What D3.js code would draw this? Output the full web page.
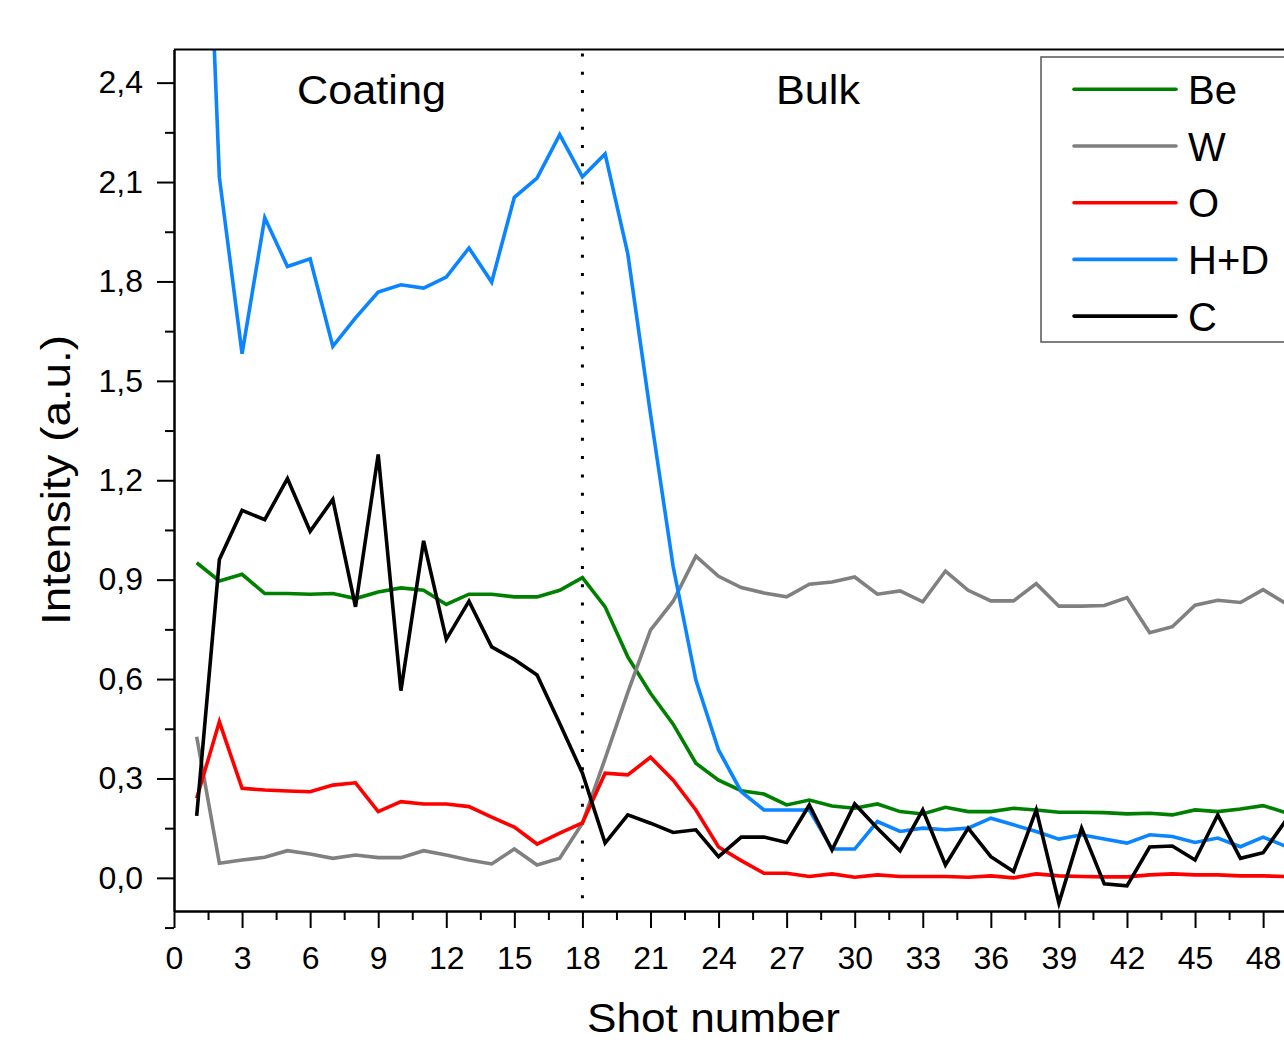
<!DOCTYPE html>
<html lang="en">
  <head>
    <meta charset="UTF-8" />
    <title>Intensity vs shot number</title>
    <script src="https://cdn.jsdelivr.net/npm/d3@7"></script>
    <style>
      body { margin: 0; background: #fff; }
      text { font-family: "Liberation Sans", Arial, sans-serif; fill: #000; }
      .axis path, .axis line { stroke: #000; stroke-width: 2px; }
      .axis text { font-size: 32px; font-family: "Liberation Sans", Arial, sans-serif; }
    </style>
  </head>
  <body>
    <script>

      // shot numbers 1..49
      var shots = [1,2,3,4,5,6,7,8,9,10,11,12,13,14,15,16,17,18,19,20,21,22,23,24,25,
                   26,27,28,29,30,31,32,33,34,35,36,37,38,39,40,41,42,43,44,45,46,47,48,49];

      // series values
      var be = [0.951,0.896,0.916,0.858,0.858,0.856,0.858,0.843,0.863,0.875,
                0.868,0.825,0.856,0.856,0.848,0.848,0.868,0.906,0.818,0.667,
                0.557,0.464,0.346,0.295,0.263,0.253,0.220,0.235,0.217,0.210,
                0.223,0.200,0.193,0.213,0.200,0.200,0.210,0.205,0.198,0.198,
                0.197,0.193,0.195,0.190,0.205,0.200,0.208,0.218,0.197];

      var w = [0.426,0.044,0.054,0.062,0.082,0.072,0.059,0.069,0.061,0.061,
               0.082,0.069,0.054,0.042,0.087,0.039,0.059,0.165,0.360,0.560,
               0.748,0.835,0.971,0.910,0.876,0.860,0.848,0.886,0.893,0.908,
               0.856,0.866,0.833,0.926,0.868,0.836,0.836,0.888,0.820,0.820,
               0.822,0.846,0.740,0.758,0.823,0.838,0.831,0.870,0.828];

      var o = [0.240,0.471,0.270,0.265,0.262,0.260,0.280,0.287,0.200,0.230,
               0.223,0.223,0.215,0.183,0.153,0.102,0.135,0.166,0.316,0.311,
               0.364,0.295,0.205,0.093,0.052,0.014,0.014,0.004,0.012,0.002,
               0.009,0.004,0.004,0.004,0.002,0.006,0.000,0.012,0.006,0.004,
               0.003,0.003,0.009,0.012,0.009,0.009,0.006,0.006,0.004];

      var hd = [3.85,2.114,1.582,1.992,1.845,1.868,1.604,1.690,1.768,1.790,
                1.780,1.813,1.901,1.798,2.054,2.112,2.243,2.116,2.185,1.883,
                1.400,0.939,0.597,0.386,0.260,0.205,0.205,0.205,0.087,0.087,
                0.170,0.140,0.150,0.145,0.150,0.180,0.160,0.140,0.117,0.130,
                0.117,0.105,0.130,0.125,0.107,0.120,0.094,0.123,0.095];

      var c = [0.187,0.961,1.109,1.081,1.205,1.046,1.142,0.818,1.278,0.565,
               1.017,0.720,0.835,0.697,0.659,0.612,0.466,0.316,0.105,0.190,
               0.165,0.137,0.145,0.064,0.123,0.123,0.107,0.220,0.084,0.223,
               0.150,0.082,0.205,0.039,0.150,0.064,0.019,0.205,-0.076,0.150,
               -0.018,-0.024,0.093,0.096,0.054,0.190,0.059,0.076,0.173];

      var seriesNames = ["Be", "W", "O", "H+D", "C"];
      var seriesValues = [be, w, o, hd, c];
      var seriesColors = ["#008000", "#808080", "#ff0000", "#0a84ff", "#000000"];

      // tick values
      var xTicks = [0,3,6,9,12,15,18,21,24,27,30,33,36,39,42,45,48];
      var xMinor = [1.5,4.5,7.5,10.5,13.5,16.5,19.5,22.5,25.5,28.5,31.5,34.5,37.5,40.5,43.5,46.5,49.5];
      var yTicks = [0,0.3,0.6,0.9,1.2,1.5,1.8,2.1,2.4];
      var yMinor = [-0.15,0.15,0.45,0.75,1.05,1.35,1.65,1.95,2.25];

      var boundary = 18;

      // page size and plot box
      var pageW = 1284, pageH = 1042;
      var plotLeft = 174, plotRight = 1308.5, plotTop = 49.5, plotBottom = 911;

      var svg = d3.select("body").append("svg")
        .attr("width", pageW)
        .attr("height", pageH);

      var xScale = d3.scaleLinear().domain([0, 50]).range([plotLeft, plotRight]);
      var yScale = d3.scaleLinear().domain([-0.1, 2.5]).range([plotBottom, plotTop]);

      // comma decimal labels
      var locale = d3.formatLocale({decimal: ",", thousands: ".", grouping: [3], currency: ["", ""]});
      var fmt = locale.format(".1f");

      svg.append("clipPath").attr("id", "plot")
        .append("rect")
        .attr("x", plotLeft).attr("y", plotTop)
        .attr("width", plotRight - plotLeft).attr("height", plotBottom - plotTop);

      // dotted boundary between coating and bulk
      svg.append("line")
        .attr("x1", xScale(boundary)).attr("x2", xScale(boundary))
        .attr("y1", plotTop + 4).attr("y2", plotBottom)
        .attr("stroke", "#000")
        .attr("stroke-width", 3)
        .attr("stroke-dasharray", "3,15.3");

      // lines
      var line = d3.line()
        .x(function(d, i) { return xScale(shots[i]); })
        .y(function(d) { return yScale(d); });

      svg.append("g").attr("clip-path", "url(#plot)")
        .selectAll("path")
        .data(seriesValues)
        .enter()
        .append("path")
        .attr("d", line)
        .attr("fill", "none")
        .attr("stroke", function(d, i) { return seriesColors[i]; })
        .attr("stroke-width", 3.6)
        .attr("stroke-linejoin", "miter");

      // axes: major and minor ticks
      svg.append("g")
        .attr("class", "axis")
        .attr("transform", "translate(0," + plotBottom + ")")
        .call(d3.axisBottom(xScale).tickValues(xTicks).tickSize(17).tickSizeOuter(0).tickPadding(18));

      svg.append("g")
        .attr("class", "axis")
        .attr("transform", "translate(0," + plotBottom + ")")
        .call(d3.axisBottom(xScale).tickValues(xMinor).tickSize(9).tickSizeOuter(0).tickFormat(""));

      svg.append("g")
        .attr("class", "axis")
        .attr("transform", "translate(" + plotLeft + ",0)")
        .call(d3.axisLeft(yScale).tickValues(yTicks).tickSize(17).tickSizeOuter(0).tickPadding(14).tickFormat(fmt));

      svg.append("g")
        .attr("class", "axis")
        .attr("transform", "translate(" + plotLeft + ",0)")
        .call(d3.axisLeft(yScale).tickValues(yMinor).tickSize(9).tickSizeOuter(0).tickFormat(""));

      svg.selectAll(".axis text").attr("font-family", "Liberation Sans, Arial, sans-serif");

      // top border of frame
      svg.append("line")
        .attr("x1", plotLeft).attr("x2", plotRight)
        .attr("y1", plotTop).attr("y2", plotTop)
        .attr("stroke", "#000").attr("stroke-width", 2);

      // region labels
      svg.append("text")
        .attr("x", 297).attr("y", 104)
        .attr("font-size", 40)
        .attr("textLength", 149).attr("lengthAdjust", "spacingAndGlyphs")
        .text("Coating");

      svg.append("text")
        .attr("x", 776).attr("y", 104)
        .attr("font-size", 40)
        .attr("textLength", 84).attr("lengthAdjust", "spacingAndGlyphs")
        .text("Bulk");

      // axis titles
      svg.append("text")
        .attr("x", 587).attr("y", 1032)
        .attr("font-size", 40)
        .attr("textLength", 253).attr("lengthAdjust", "spacingAndGlyphs")
        .text("Shot number");

      svg.append("text")
        .attr("transform", "translate(70,625) rotate(-90)")
        .attr("font-size", 40)
        .attr("textLength", 290).attr("lengthAdjust", "spacingAndGlyphs")
        .text("Intensity (a.u.)");

      // legend
      var legend = svg.append("g");

      legend.append("rect")
        .attr("x", 1041).attr("y", 57)
        .attr("width", 300).attr("height", 285)
        .attr("fill", "#fff")
        .attr("stroke", "#555")
        .attr("stroke-width", 1.5);

      var rows = legend.selectAll("g.row")
        .data(seriesNames)
        .enter()
        .append("g")
        .attr("class", "row")
        .attr("transform", function(d, i) { return "translate(0," + (89.3 + i * 56.7) + ")"; });

      rows.append("line")
        .attr("x1", 1074).attr("x2", 1176)
        .attr("stroke", function(d, i) { return seriesColors[i]; })
        .attr("stroke-width", 3.6)
        .attr("stroke-linecap", "round");

      rows.append("text")
        .attr("x", 1188).attr("y", 14.5)
        .attr("font-size", 40)
        .text(function(d) { return d; });

    </script>
  </body>
</html>
